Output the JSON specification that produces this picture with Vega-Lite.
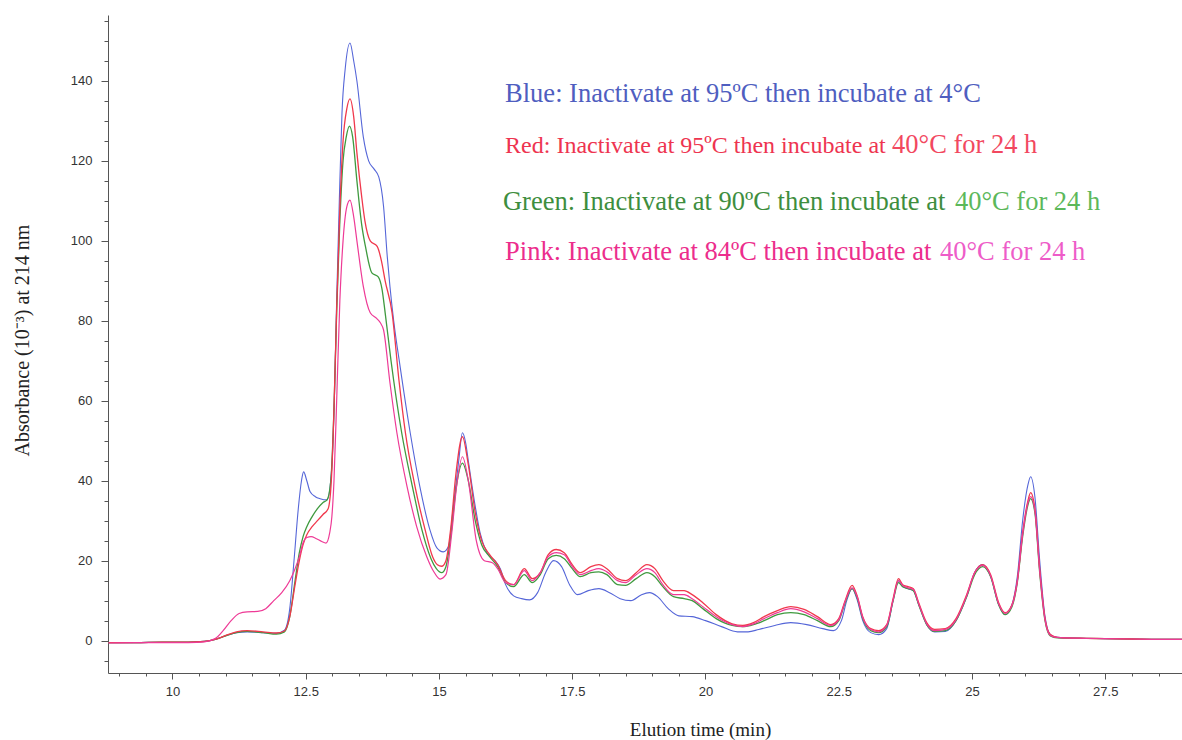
{
  "$schema": "https://vega.github.io/schema/vega-lite/v6.json",
  "width": 1074,
  "height": 658,
  "autosize": {"type": "none"},
  "padding": {"left": 108, "top": 15, "right": 0, "bottom": 67},
  "background": "white",
  "config": {"view": {"stroke": null}, "font": "Liberation Sans"},
  "datasets": {
    "blue": [
      {"t":8.8,"a":-0.5},{"t":9.3,"a":-0.5},{"t":9.8,"a":-0.4},{"t":10.3,"a":-0.4},{"t":10.6,"a":-0.2},{"t":10.8,"a":0.3},{"t":11.0,"a":1.2},{"t":11.2,"a":2.0},{"t":11.4,"a":2.2},{"t":11.7,"a":2.0},{"t":11.95,"a":1.8},{"t":12.1,"a":2.6},{"t":12.2,"a":8},{"t":12.28,"a":20},{"t":12.36,"a":33},{"t":12.42,"a":40},{"t":12.46,"a":42.2},{"t":12.52,"a":40},{"t":12.58,"a":37.3},{"t":12.68,"a":36},{"t":12.77,"a":35.5},{"t":12.9,"a":35.2},{"t":12.99,"a":43.6},{"t":13.04,"a":62},{"t":13.08,"a":85},{"t":13.13,"a":110},{"t":13.18,"a":132},{"t":13.24,"a":143},{"t":13.33,"a":149.5},{"t":13.4,"a":145},{"t":13.46,"a":140},{"t":13.58,"a":126},{"t":13.68,"a":120},{"t":13.78,"a":118},{"t":13.87,"a":116},{"t":13.96,"a":108.6},{"t":14.03,"a":96},{"t":14.08,"a":88.6},{"t":14.15,"a":80},{"t":14.27,"a":68.6},{"t":14.46,"a":52},{"t":14.64,"a":38.6},{"t":14.83,"a":27.7},{"t":14.96,"a":23.2},{"t":15.08,"a":22.2},{"t":15.18,"a":23.6},{"t":15.27,"a":33.6},{"t":15.37,"a":45},{"t":15.44,"a":52},{"t":15.5,"a":49.5},{"t":15.55,"a":45},{"t":15.68,"a":33.6},{"t":15.77,"a":27},{"t":15.9,"a":22},{"t":16.05,"a":20},{"t":16.15,"a":18},{"t":16.25,"a":14},{"t":16.4,"a":11.2},{"t":16.55,"a":10.5},{"t":16.7,"a":10.2},{"t":16.85,"a":12},{"t":17.0,"a":17},{"t":17.15,"a":20},{"t":17.3,"a":18.5},{"t":17.45,"a":14},{"t":17.6,"a":11.5},{"t":17.8,"a":12.5},{"t":18.0,"a":13},{"t":18.2,"a":12},{"t":18.4,"a":10.5},{"t":18.6,"a":10},{"t":18.8,"a":11.5},{"t":18.95,"a":12},{"t":19.1,"a":11},{"t":19.3,"a":8},{"t":19.5,"a":6.2},{"t":19.75,"a":6},{"t":20.0,"a":5},{"t":20.3,"a":3.5},{"t":20.6,"a":2.2},{"t":20.8,"a":2.2},{"t":21.0,"a":2.8},{"t":21.3,"a":3.8},{"t":21.6,"a":4.5},{"t":21.9,"a":4},{"t":22.2,"a":3},{"t":22.4,"a":2.5},{"t":22.55,"a":5},{"t":22.65,"a":10},{"t":22.75,"a":13},{"t":22.85,"a":10},{"t":22.95,"a":5},{"t":23.1,"a":2},{"t":23.25,"a":1.5},{"t":23.4,"a":3},{"t":23.52,"a":10},{"t":23.62,"a":15},{"t":23.7,"a":13.5},{"t":23.8,"a":13},{"t":23.9,"a":12.5},{"t":24.0,"a":9},{"t":24.15,"a":4},{"t":24.3,"a":2.2},{"t":24.5,"a":2.3},{"t":24.7,"a":5},{"t":24.9,"a":11},{"t":25.05,"a":17},{"t":25.2,"a":19},{"t":25.35,"a":16},{"t":25.5,"a":9},{"t":25.62,"a":6.5},{"t":25.75,"a":9},{"t":25.85,"a":16},{"t":25.95,"a":30},{"t":26.05,"a":39},{"t":26.1,"a":41},{"t":26.18,"a":36},{"t":26.27,"a":20},{"t":26.37,"a":6},{"t":26.47,"a":1.5},{"t":26.6,"a":0.8},{"t":27.0,"a":0.6},{"t":27.5,"a":0.5},{"t":28.0,"a":0.4},{"t":28.5,"a":0.3},{"t":28.94,"a":0.3}
    ],
    "green": [
      {"t":8.8,"a":-0.5},{"t":9.3,"a":-0.5},{"t":9.8,"a":-0.4},{"t":10.3,"a":-0.4},{"t":10.6,"a":-0.2},{"t":10.8,"a":0.3},{"t":11.0,"a":1.2},{"t":11.2,"a":2.0},{"t":11.4,"a":2.3},{"t":11.7,"a":2.0},{"t":11.95,"a":1.6},{"t":12.1,"a":2.2},{"t":12.2,"a":6},{"t":12.3,"a":15},{"t":12.38,"a":22},{"t":12.45,"a":26},{"t":12.52,"a":28.5},{"t":12.62,"a":31},{"t":12.72,"a":33},{"t":12.82,"a":34.5},{"t":12.9,"a":35.2},{"t":12.97,"a":40},{"t":13.03,"a":58},{"t":13.08,"a":82},{"t":13.14,"a":105},{"t":13.2,"a":120},{"t":13.26,"a":126},{"t":13.32,"a":128.7},{"t":13.38,"a":126},{"t":13.46,"a":115},{"t":13.55,"a":104},{"t":13.62,"a":98.6},{"t":13.74,"a":92},{"t":13.86,"a":91},{"t":13.93,"a":88},{"t":13.99,"a":82},{"t":14.1,"a":70},{"t":14.3,"a":52},{"t":14.5,"a":38.6},{"t":14.68,"a":27.7},{"t":14.85,"a":20.5},{"t":14.95,"a":18},{"t":15.05,"a":17},{"t":15.13,"a":18.5},{"t":15.22,"a":26},{"t":15.32,"a":38},{"t":15.44,"a":44.4},{"t":15.55,"a":40},{"t":15.68,"a":30},{"t":15.8,"a":24},{"t":15.95,"a":21},{"t":16.1,"a":18.5},{"t":16.25,"a":14.5},{"t":16.4,"a":13.5},{"t":16.6,"a":16.5},{"t":16.75,"a":14.5},{"t":16.9,"a":16.5},{"t":17.05,"a":20.5},{"t":17.2,"a":21.3},{"t":17.35,"a":20.5},{"t":17.5,"a":18},{"t":17.65,"a":16},{"t":17.85,"a":17},{"t":18.0,"a":17.2},{"t":18.15,"a":16.5},{"t":18.35,"a":14},{"t":18.5,"a":13.8},{"t":18.7,"a":15.5},{"t":18.9,"a":17},{"t":19.05,"a":16},{"t":19.2,"a":13.5},{"t":19.4,"a":11},{"t":19.6,"a":10.5},{"t":19.75,"a":10},{"t":19.95,"a":8},{"t":20.2,"a":5.5},{"t":20.5,"a":3.8},{"t":20.7,"a":3.5},{"t":20.9,"a":4},{"t":21.1,"a":5},{"t":21.35,"a":6.5},{"t":21.6,"a":7},{"t":21.85,"a":6.5},{"t":22.1,"a":5},{"t":22.35,"a":3.5},{"t":22.5,"a":5},{"t":22.62,"a":9.5},{"t":22.75,"a":13},{"t":22.85,"a":10.5},{"t":22.95,"a":5.5},{"t":23.1,"a":2.5},{"t":23.25,"a":2},{"t":23.4,"a":3.5},{"t":23.52,"a":10},{"t":23.62,"a":14.5},{"t":23.7,"a":13.5},{"t":23.8,"a":13},{"t":23.9,"a":12.5},{"t":24.0,"a":9},{"t":24.15,"a":4},{"t":24.3,"a":2.3},{"t":24.5,"a":2.5},{"t":24.7,"a":5},{"t":24.9,"a":11},{"t":25.05,"a":16.5},{"t":25.2,"a":18.5},{"t":25.35,"a":16},{"t":25.5,"a":9},{"t":25.62,"a":6.5},{"t":25.75,"a":8.5},{"t":25.85,"a":14.5},{"t":25.95,"a":26},{"t":26.05,"a":34},{"t":26.1,"a":35.5},{"t":26.18,"a":32},{"t":26.27,"a":17},{"t":26.37,"a":5},{"t":26.47,"a":1.2},{"t":26.6,"a":0.7},{"t":27.0,"a":0.6},{"t":27.5,"a":0.5},{"t":28.0,"a":0.4},{"t":28.5,"a":0.3},{"t":28.94,"a":0.3}
    ],
    "red": [
      {"t":8.8,"a":-0.5},{"t":9.3,"a":-0.5},{"t":9.8,"a":-0.4},{"t":10.3,"a":-0.4},{"t":10.6,"a":-0.2},{"t":10.8,"a":0.3},{"t":11.0,"a":1.3},{"t":11.2,"a":2.2},{"t":11.4,"a":2.5},{"t":11.7,"a":2.2},{"t":11.95,"a":1.9},{"t":12.1,"a":2.4},{"t":12.2,"a":6},{"t":12.3,"a":14},{"t":12.38,"a":20},{"t":12.45,"a":24},{"t":12.52,"a":26.5},{"t":12.62,"a":28.5},{"t":12.72,"a":30},{"t":12.82,"a":31.5},{"t":12.92,"a":33},{"t":12.98,"a":40},{"t":13.03,"a":58},{"t":13.08,"a":83},{"t":13.14,"a":108},{"t":13.2,"a":125},{"t":13.27,"a":133},{"t":13.33,"a":135.5},{"t":13.4,"a":131},{"t":13.46,"a":122},{"t":13.55,"a":111},{"t":13.61,"a":105},{"t":13.71,"a":100},{"t":13.84,"a":98.6},{"t":13.92,"a":95},{"t":13.99,"a":90},{"t":14.12,"a":82},{"t":14.25,"a":65},{"t":14.37,"a":52},{"t":14.55,"a":38.6},{"t":14.74,"a":27.7},{"t":14.88,"a":21},{"t":14.97,"a":19},{"t":15.05,"a":18.6},{"t":15.13,"a":20},{"t":15.22,"a":28},{"t":15.32,"a":42},{"t":15.44,"a":51},{"t":15.55,"a":44},{"t":15.68,"a":32},{"t":15.8,"a":25},{"t":15.95,"a":21.5},{"t":16.1,"a":19},{"t":16.25,"a":15},{"t":16.4,"a":14},{"t":16.6,"a":18},{"t":16.75,"a":15.5},{"t":16.9,"a":17},{"t":17.05,"a":21.5},{"t":17.2,"a":22.8},{"t":17.35,"a":22},{"t":17.5,"a":19},{"t":17.65,"a":17},{"t":17.85,"a":18.5},{"t":18.0,"a":19},{"t":18.15,"a":18},{"t":18.35,"a":15.5},{"t":18.5,"a":15},{"t":18.7,"a":17},{"t":18.9,"a":19},{"t":19.05,"a":18},{"t":19.2,"a":15},{"t":19.4,"a":12.5},{"t":19.6,"a":12.5},{"t":19.75,"a":11.5},{"t":19.95,"a":9.5},{"t":20.2,"a":6.5},{"t":20.5,"a":4.2},{"t":20.7,"a":3.8},{"t":20.9,"a":4.5},{"t":21.1,"a":6},{"t":21.35,"a":7.5},{"t":21.6,"a":8.5},{"t":21.85,"a":7.8},{"t":22.1,"a":6},{"t":22.35,"a":4},{"t":22.5,"a":5.5},{"t":22.62,"a":10},{"t":22.75,"a":13.8},{"t":22.85,"a":11},{"t":22.95,"a":6},{"t":23.1,"a":3},{"t":23.25,"a":2.5},{"t":23.4,"a":4},{"t":23.52,"a":10.5},{"t":23.62,"a":15.5},{"t":23.7,"a":14},{"t":23.8,"a":13.5},{"t":23.9,"a":13},{"t":24.0,"a":9.5},{"t":24.15,"a":4.5},{"t":24.3,"a":2.8},{"t":24.5,"a":3},{"t":24.7,"a":5.5},{"t":24.9,"a":11.5},{"t":25.05,"a":17},{"t":25.2,"a":19},{"t":25.35,"a":16.5},{"t":25.5,"a":9.5},{"t":25.62,"a":7},{"t":25.75,"a":9},{"t":25.85,"a":15},{"t":25.95,"a":27},{"t":26.05,"a":35},{"t":26.1,"a":37},{"t":26.18,"a":33},{"t":26.27,"a":18},{"t":26.37,"a":5.5},{"t":26.47,"a":1.5},{"t":26.6,"a":0.8},{"t":27.0,"a":0.6},{"t":27.5,"a":0.5},{"t":28.0,"a":0.4},{"t":28.5,"a":0.3},{"t":28.94,"a":0.3}
    ],
    "pink": [
      {"t":8.8,"a":-0.6},{"t":9.3,"a":-0.5},{"t":9.8,"a":-0.5},{"t":10.3,"a":-0.5},{"t":10.6,"a":-0.3},{"t":10.8,"a":0.5},{"t":10.95,"a":2.5},{"t":11.1,"a":5},{"t":11.25,"a":6.8},{"t":11.4,"a":7.2},{"t":11.6,"a":7.3},{"t":11.75,"a":8},{"t":11.9,"a":10},{"t":12.05,"a":12},{"t":12.2,"a":15},{"t":12.3,"a":18},{"t":12.38,"a":21},{"t":12.45,"a":24.5},{"t":12.52,"a":25.8},{"t":12.6,"a":26},{"t":12.7,"a":25.5},{"t":12.8,"a":24.8},{"t":12.88,"a":24.4},{"t":12.95,"a":27},{"t":12.99,"a":31},{"t":13.03,"a":40},{"t":13.08,"a":60},{"t":13.14,"a":85},{"t":13.2,"a":100},{"t":13.27,"a":108.5},{"t":13.33,"a":110.2},{"t":13.4,"a":106},{"t":13.46,"a":100},{"t":13.58,"a":88.6},{"t":13.71,"a":82},{"t":13.83,"a":80.6},{"t":13.9,"a":79.5},{"t":13.96,"a":77.7},{"t":14.08,"a":64.5},{"t":14.21,"a":52},{"t":14.4,"a":38.6},{"t":14.58,"a":28.6},{"t":14.77,"a":21},{"t":14.9,"a":17.3},{"t":15.02,"a":15.4},{"t":15.13,"a":16.5},{"t":15.24,"a":27},{"t":15.33,"a":38.6},{"t":15.44,"a":46},{"t":15.55,"a":40},{"t":15.7,"a":25},{"t":15.85,"a":20},{"t":16.0,"a":19.5},{"t":16.1,"a":18},{"t":16.25,"a":14.5},{"t":16.4,"a":14},{"t":16.6,"a":17.5},{"t":16.75,"a":15},{"t":16.9,"a":17},{"t":17.05,"a":21},{"t":17.2,"a":22},{"t":17.35,"a":21.5},{"t":17.5,"a":18.5},{"t":17.65,"a":16.5},{"t":17.85,"a":17.5},{"t":18.0,"a":18},{"t":18.15,"a":17.2},{"t":18.35,"a":15},{"t":18.5,"a":14.5},{"t":18.7,"a":16.5},{"t":18.9,"a":18},{"t":19.05,"a":17},{"t":19.2,"a":14},{"t":19.4,"a":11.5},{"t":19.6,"a":11.5},{"t":19.75,"a":10.5},{"t":19.95,"a":8.5},{"t":20.2,"a":6},{"t":20.5,"a":4},{"t":20.7,"a":3.5},{"t":20.9,"a":4.2},{"t":21.1,"a":5.5},{"t":21.35,"a":7},{"t":21.6,"a":8},{"t":21.85,"a":7.2},{"t":22.1,"a":5.5},{"t":22.35,"a":3.8},{"t":22.5,"a":5.2},{"t":22.62,"a":9.8},{"t":22.75,"a":13.2},{"t":22.85,"a":10.8},{"t":22.95,"a":5.8},{"t":23.1,"a":2.8},{"t":23.25,"a":2.2},{"t":23.4,"a":3.8},{"t":23.52,"a":10.2},{"t":23.62,"a":15},{"t":23.7,"a":13.8},{"t":23.8,"a":13.2},{"t":23.9,"a":12.8},{"t":24.0,"a":9.2},{"t":24.15,"a":4.2},{"t":24.3,"a":2.5},{"t":24.5,"a":2.8},{"t":24.7,"a":5.2},{"t":24.9,"a":11.2},{"t":25.05,"a":17},{"t":25.2,"a":18.8},{"t":25.35,"a":16.2},{"t":25.5,"a":9.2},{"t":25.62,"a":6.8},{"t":25.75,"a":8.8},{"t":25.85,"a":14.8},{"t":25.95,"a":26.5},{"t":26.05,"a":34.5},{"t":26.1,"a":36},{"t":26.18,"a":32.5},{"t":26.27,"a":17.5},{"t":26.37,"a":5.2},{"t":26.47,"a":1.3},{"t":26.6,"a":0.8},{"t":27.0,"a":0.6},{"t":27.5,"a":0.5},{"t":28.0,"a":0.4},{"t":28.5,"a":0.3},{"t":28.94,"a":0.3}
    ],
    "notes": [
      {"t":16.24,"a":134.8,"label":"Blue: Inactivate at 95ºC then incubate at 4°C","tone":"Blue"},
      {"t":16.24,"a":122.1,"label":"Red: Inactivate at 95ºC then incubate at","tone":"Red"},
      {"t":23.5,"a":122.1,"label":"40°C for 24 h","tone":"Red light"},
      {"t":16.2,"a":107.75,"label":"Green: Inactivate at 90ºC then incubate at","tone":"Green"},
      {"t":24.68,"a":107.75,"label":"40°C for 24 h","tone":"Green light"},
      {"t":16.24,"a":95.25,"label":"Pink: Inactivate at 84ºC then incubate at","tone":"Pink"},
      {"t":24.4,"a":95.25,"label":"40°C for 24 h","tone":"Pink light"}
    ]
  },
  "encoding": {
    "x": {
      "field": "t",
      "type": "quantitative",
      "scale": {"domain": [8.79, 28.94], "nice": false, "zero": false},
      "axis": {
        "values": [9,9.5,10,10.5,11,11.5,12,12.5,13,13.5,14,14.5,15,15.5,16,16.5,17,17.5,18,18.5,19,19.5,20,20.5,21,21.5,22,22.5,23,23.5,24,24.5,25,25.5,26,26.5,27,27.5,28,28.5],
        "labelExpr": "datum.value % 2.5 === 0 ? '' + datum.value : ''",
        "tickSize": {"condition": {"test": "datum.value % 2.5 === 0", "value": 6}, "value": 3},
        "grid": false,
        "domainColor": "#555",
        "tickColor": "#555",
        "labelColor": "#333",
        "labelFont": "Liberation Sans",
        "labelFontSize": 13,
        "labelPadding": 6,
        "labelOverlap": false,
        "labelFlush": false,
        "title": "Elution time (min)",
        "titleFont": "Liberation Serif",
        "titleFontSize": 19,
        "titleFontWeight": "normal",
        "titleColor": "#222",
        "titleX": 592,
        "titleY": 62,
        "titleAlign": "center",
        "titleBaseline": "alphabetic"
      }
    },
    "y": {
      "field": "a",
      "type": "quantitative",
      "scale": {"domain": [-8.1, 156.5], "nice": false, "zero": false},
      "axis": {
        "values": [-5,0,5,10,15,20,25,30,35,40,45,50,55,60,65,70,75,80,85,90,95,100,105,110,115,120,125,130,135,140,145,150,155],
        "labelExpr": "datum.value % 20 === 0 ? '' + datum.value : ''",
        "tickSize": {"condition": {"test": "datum.value % 20 === 0", "value": 7}, "value": 4},
        "grid": false,
        "domainColor": "#555",
        "tickColor": "#555",
        "labelColor": "#333",
        "labelFont": "Liberation Sans",
        "labelFontSize": 13,
        "labelPadding": 9,
        "labelOverlap": false,
        "labelFlush": false,
        "title": "Absorbance (10⁻³) at 214 nm",
        "titleFont": "Liberation Serif",
        "titleFontSize": 20,
        "titleFontWeight": "normal",
        "titleColor": "#222",
        "titleX": -86,
        "titleY": 325,
        "titleAngle": 270,
        "titleAlign": "center",
        "titleBaseline": "middle"
      }
    }
  },
  "layer": [
    {"data": {"name": "blue"}, "mark": {"type": "line", "color": "#5566d8", "strokeWidth": 1.1, "clip": true, "interpolate": "monotone"}},
    {"data": {"name": "green"}, "mark": {"type": "line", "color": "#3f9a3f", "strokeWidth": 1.3, "clip": true, "interpolate": "monotone"}},
    {"data": {"name": "red"}, "mark": {"type": "line", "color": "#f0384c", "strokeWidth": 1.3, "clip": true, "interpolate": "monotone"}},
    {"data": {"name": "pink"}, "mark": {"type": "line", "color": "#ee3a96", "strokeWidth": 1.2, "clip": true, "interpolate": "monotone"}},
    {
      "data": {"name": "notes"},
      "transform": [{"filter": "datum.tone !== 'Red'"}],
      "mark": {"type": "text", "align": "left", "baseline": "alphabetic", "font": "Liberation Serif", "fontSize": 26.5},
      "encoding": {
        "text": {"field": "label"},
        "color": {
          "field": "tone",
          "type": "nominal",
          "legend": null,
          "scale": {
            "domain": ["Blue", "Red", "Red light", "Green", "Green light", "Pink", "Pink light"],
            "range": ["#4f5ec0", "#ee3450", "#f2485f", "#3e8e3e", "#5cb85a", "#ec2d8c", "#ee5cc8"]
          }
        }
      }
    },
    {
      "data": {"name": "notes"},
      "transform": [{"filter": "datum.tone === 'Red'"}],
      "mark": {"type": "text", "align": "left", "baseline": "alphabetic", "font": "Liberation Serif", "fontSize": 24},
      "encoding": {
        "text": {"field": "label"},
        "color": {"field": "tone", "type": "nominal", "legend": null}
      }
    }
  ]
}
